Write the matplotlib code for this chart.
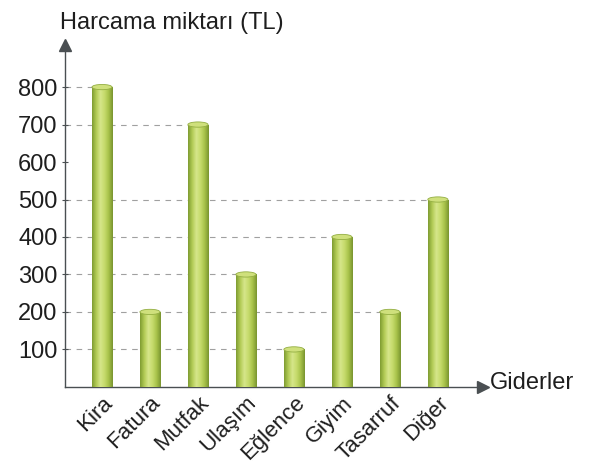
import matplotlib.pyplot as plt
import numpy as np
from matplotlib.patches import Ellipse
from matplotlib.colors import LinearSegmentedColormap

plt.rcParams['font.family'] = ['Liberation Sans', 'DejaVu Sans']

# data
categories = ['Kira', 'Fatura', 'Mutfak', 'Ulaşım', 'Eğlence', 'Giyim', 'Tasarruf', 'Diğer']
values = [800, 200, 700, 300, 100, 400, 200, 500]
yticks = [100, 200, 300, 400, 500, 600, 700, 800]

axis_col = '#4a4f52'
text_col = '#1e1e1e'

fig = plt.figure(figsize=(5.97, 4.65), dpi=100)
ax = fig.add_axes([0.109, 0.168, 0.700, 0.735])
x = np.arange(len(categories))
w = 0.42

# cylinder gradient
cmap = LinearSegmentedColormap.from_list(
    'cyl', ['#7f9c33', '#b2cb55', '#d6e68a', '#c6db6c', '#a8c24a', '#7a9530'])
grad = np.linspace(0, 1, 64).reshape(1, -1)

bars = ax.bar(x, values, w, color='#b0c955', zorder=3, edgecolor='none')
for xi, v, b in zip(x, values, bars):
    im = ax.imshow(grad, cmap=cmap, aspect='auto', zorder=3,
                   extent=(xi - w / 2, xi + w / 2, 0, v))
    im.set_clip_path(b)
    ax.add_patch(Ellipse((xi, v), w, 14, facecolor='#cfe07c',
                         edgecolor='#93ae42', lw=0.6, zorder=4))
ax.set_xlim(-0.77, 7.94)
ax.set_ylim(0, 912)

# dashed guide lines from axis to the bar with that value
for v in sorted(set(values)):
    last = max(i for i, vv in enumerate(values) if vv == v)
    ax.plot([-0.77, x[last]], [v, v], ls=(0, (5, 5)), color='#a0a0a0',
            lw=0.8, zorder=1)

# axes styling
for s in ['top', 'right']:
    ax.spines[s].set_visible(False)
for s in ['left', 'bottom']:
    ax.spines[s].set_color(axis_col)
    ax.spines[s].set_linewidth(1.0)
ax.plot(1, 0, '>', color=axis_col, ms=8, transform=ax.transAxes, clip_on=False)
ax.plot(0, 1, '^', color=axis_col, ms=8, transform=ax.transAxes, clip_on=False)

ax.set_yticks(yticks)
ax.set_yticklabels([str(t) for t in yticks], fontsize=17, color=text_col)
ax.tick_params(axis='y', direction='inout', length=5, color=axis_col, pad=3)
ax.set_xticks(x)
ax.set_xticklabels(categories, fontsize=16, color=text_col, rotation=45,
                   ha='right', rotation_mode='anchor')
ax.tick_params(axis='x', length=0, pad=4)

fig.text(0.100, 0.950, 'Harcama miktarı (TL)', fontsize=17, color=text_col,
         ha='left', va='center')
fig.text(0.820, 0.176, 'Giderler', fontsize=17, color=text_col,
         ha='left', va='center')

fig.savefig('out.png', dpi=100)
